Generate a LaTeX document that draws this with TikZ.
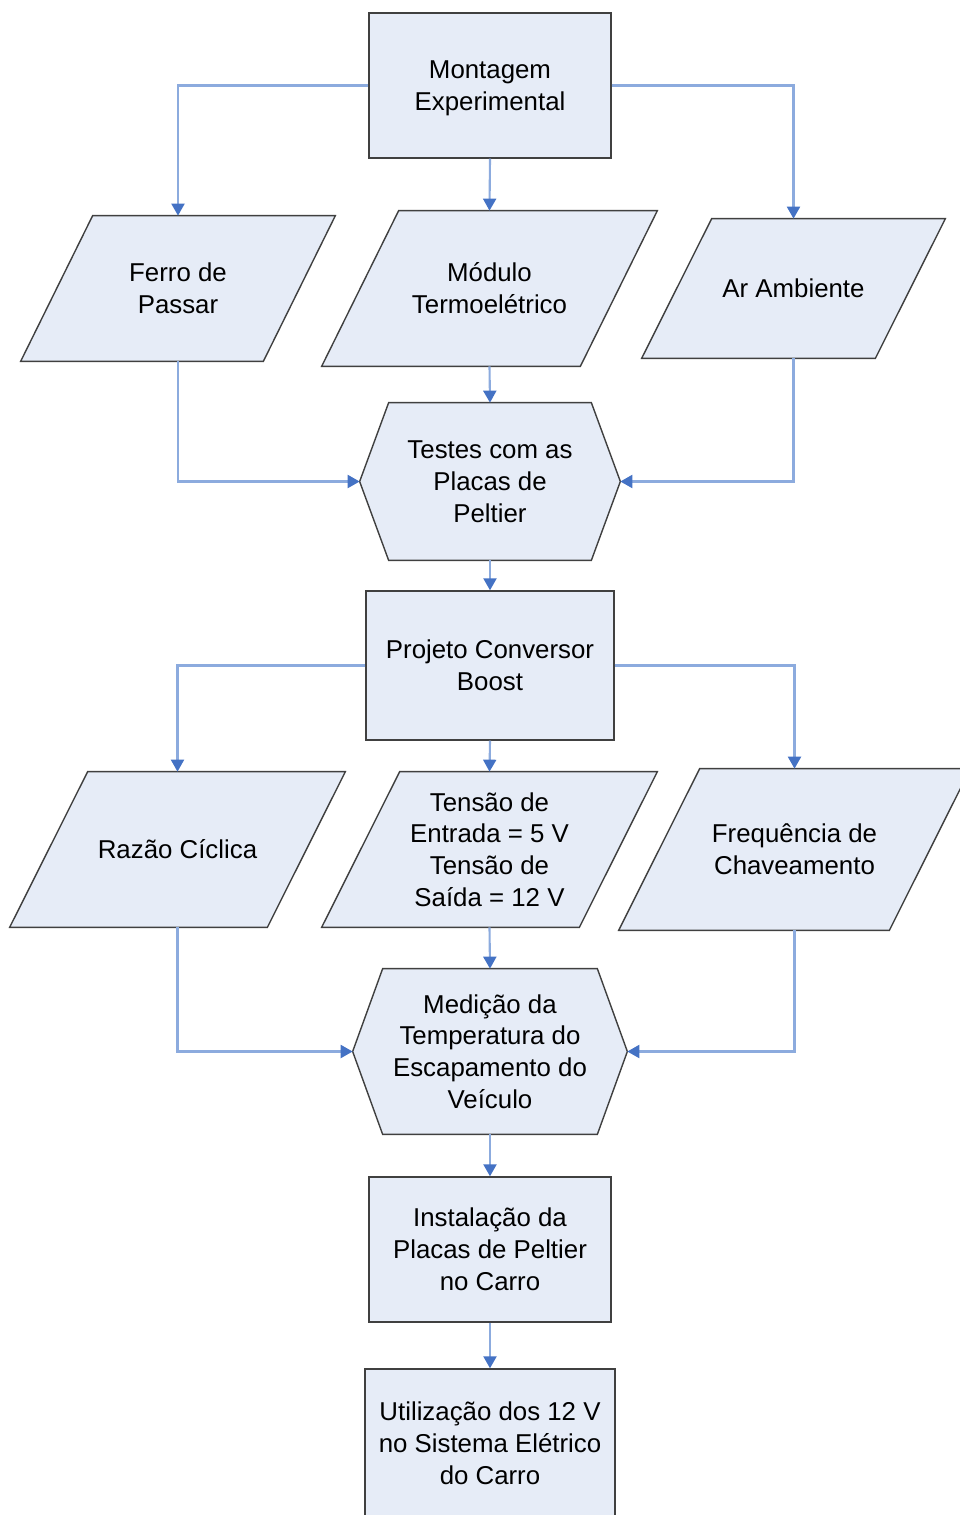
\documentclass[tikz,border=0pt]{standalone}
\usepackage{fontspec}
\setmainfont{Liberation Sans}
\usetikzlibrary{arrows.meta,fit,backgrounds}
\definecolor{boxfill}{RGB}{230,236,247}
\definecolor{linkblue}{RGB}{140,171,222}
\definecolor{tipblue}{RGB}{68,114,196}
\def\px{0.02cm}
\tikzset{
  txt/.style={inner sep=0pt, align=center, font=\fontsize{14.7}{18.1}\selectfont},
  shapebox/.style={inner sep=0pt},
  rectbox/.style={shapebox, draw=black!75, fill=boxfill, line width=0.8pt},
  shapeline/.style={draw=black!75, fill=boxfill, line width=0.8pt},
  link/.style={draw=linkblue, line width=1.2pt, -{Triangle[length=12*\px, width=13*\px, color=tipblue]}}
}
\def\parallelo#1#2{\draw[shapeline] ([xshift=#2*\px]#1.north west) -- (#1.north east) -- ([xshift=-#2*\px]#1.south east) -- (#1.south west) -- cycle;}
\def\hexa#1#2{\draw[shapeline] ([xshift=#2*\px]#1.north west) -- ([xshift=-#2*\px]#1.north east) -- (#1.east) -- ([xshift=-#2*\px]#1.south east) -- ([xshift=#2*\px]#1.south west) -- (#1.west) -- cycle;}

\begin{document}
\begin{tikzpicture}[x=\px, y=-\px]
		%%%%% START %%%%%
		\useasboundingbox (0, 0) rectangle (960, 1515);
		
		\node[rectbox, fit={(369, 13) (611, 158)}, label={[txt, yshift=-3*\px]center:{Montagem\\Experimental}}] (mont) {};
		
		\node[shapebox, fit={(21, 216) (335, 361)}, label={[txt]center:{Ferro de\\Passar}}] (ferro) {};
		\node[shapebox, fit={(322, 211) (657, 366)}, label={[txt]center:{Módulo\\Termoelétrico}}] (modulo) {};
		\node[shapebox, fit={(642, 219) (945, 358)}, label={[txt]center:{Ar Ambiente}}] (ar) {};
		
		\node[shapebox, fit={(360, 403) (620, 560)}, label={[txt]center:{Testes com as\\Placas de\\Peltier}}] (testes) {};
		
		\node[rectbox, fit={(366, 591) (614, 740)}, label={[txt]center:{Projeto Conversor\\Boost}}] (boost) {};
		
		\node[shapebox, fit={(10, 772) (345, 927)}, label={[txt]center:{Razão Cíclica}}] (razao) {};
		\node[shapebox, fit={(322, 772) (657, 927)}, label={[txt]center:{Tensão de\\Entrada = 5 V\\Tensão de\\Saída = 12 V}}] (tensao) {};
		\node[shapebox, fit={(619, 769) (970, 930)}, label={[txt]center:{Frequência de\\Chaveamento}}] (freq) {};
		
		\node[shapebox, fit={(353, 969) (627, 1134)}, label={[txt]center:{Medição da\\Temperatura do\\Escapamento do\\Veículo}}] (medicao) {};
		
		\node[rectbox, fit={(369, 1177) (611, 1322)}, label={[txt]center:{Instalação da\\Placas de Peltier\\no Carro}}] (instal) {};
		\node[rectbox, fit={(365, 1369) (615, 1518)}, label={[txt]center:{Utilização dos 12 V\\no Sistema Elétrico\\do Carro}}] (util) {};
		
		% outlines behind the texts
		\begin{scope}[on background layer]
			\parallelo{ferro}{72}
			\parallelo{modulo}{77}
			\parallelo{ar}{70}
			\hexa{testes}{29}
			\parallelo{razao}{78}
			\parallelo{tensao}{78}
			\parallelo{freq}{81}
			\hexa{medicao}{30}
		\end{scope}
		
		% connectors
		\draw[link] (mont.west) -| (ferro.north);
		\draw[link] (mont.south) -- (modulo.north);
		\draw[link] (mont.east) -| (ar.north);
		
		\draw[link] (ferro.south) |- (testes.west);
		\draw[link] (modulo.south) -- (testes.north);
		\draw[link] (ar.south) |- (testes.east);
		\draw[link] (testes.south) -- (boost.north);
		
		\draw[link] (boost.west) -| (razao.north);
		\draw[link] (boost.south) -- (tensao.north);
		\draw[link] (boost.east) -| (freq.north);
		
		\draw[link] (razao.south) |- (medicao.west);
		\draw[link] (tensao.south) -- (medicao.north);
		\draw[link] (freq.south) |- (medicao.east);
		
		\draw[link] (medicao.south) -- (instal.north);
		\draw[link] (instal.south) -- (util.north);
		
		%%%%% END %%%%%
\end{tikzpicture}
\end{document}
